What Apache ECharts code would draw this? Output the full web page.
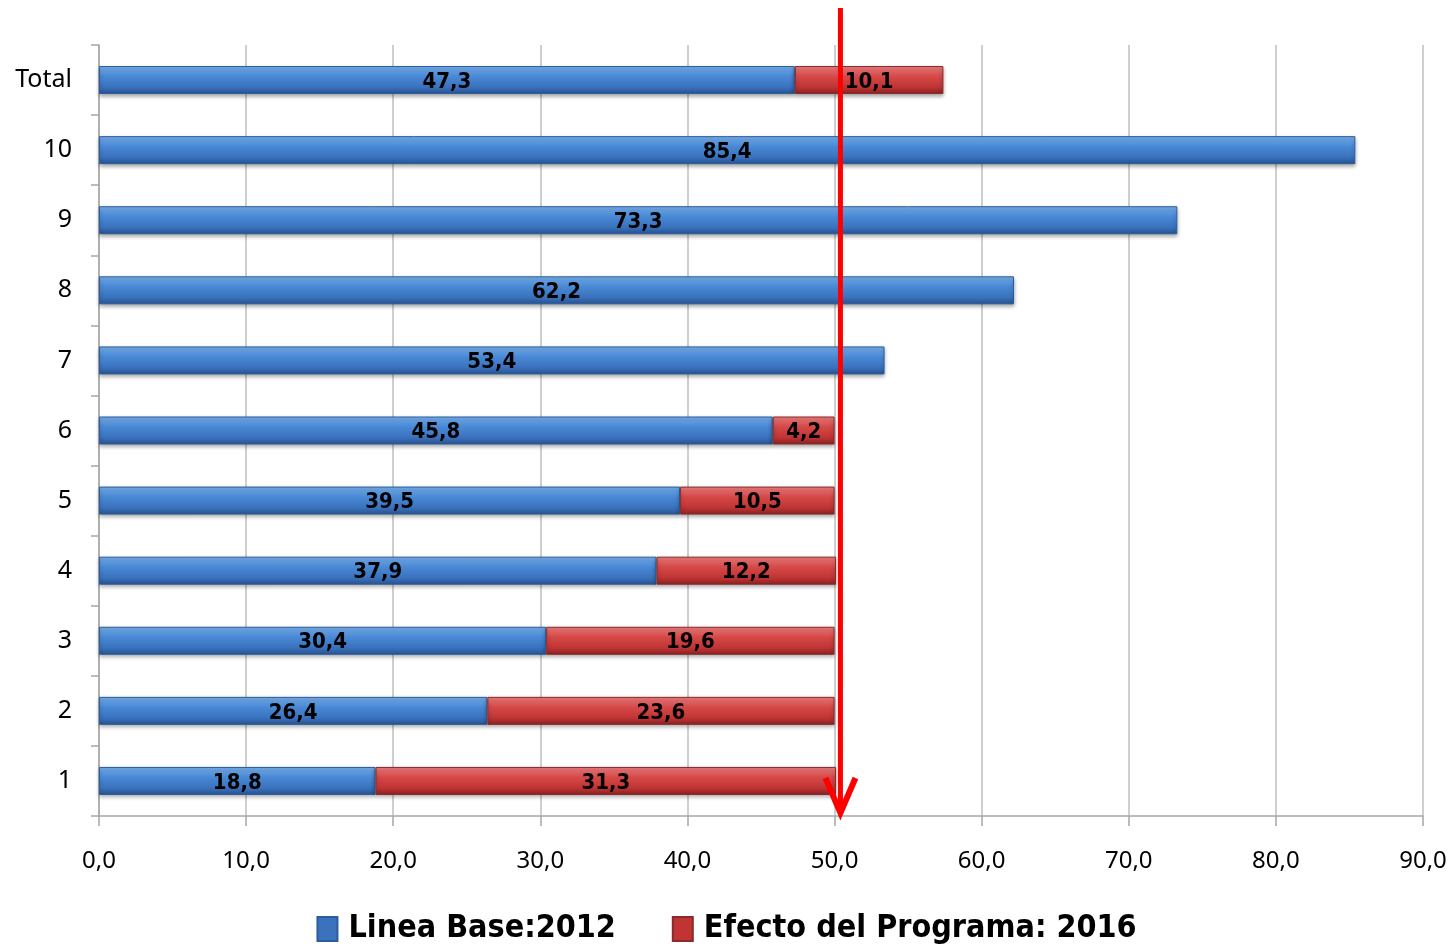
<!DOCTYPE html>
<html lang="es">
<head>
    <meta charset="UTF-8">
    <title>Linea Base 2012 / Efecto del Programa 2016</title>
    <script src="https://cdn.jsdelivr.net/npm/echarts@6/dist/echarts.min.js"></script>
    <style>
        html, body { margin: 0; padding: 0; background: #fff; }
    </style>
</head>
<body>
<div id="main" style="width: 1453px;height:950px;"></div>
<script type="text/javascript">
    var categories = ['1', '2', '3', '4', '5', '6', '7', '8', '9', '10', 'Total'];
    var lineaBase = [18.8, 26.4, 30.4, 37.9, 39.5, 45.8, 53.4, 62.2, 73.3, 85.4, 47.3];   // Linea Base:2012
    var efecto = [31.3, 23.6, 19.6, 12.2, 10.5, 4.2, null, null, null, null, 10.1];       // Efecto del Programa: 2016
    var xTicks = [0, 10, 20, 30, 40, 50, 60, 70, 80, 90];
    var metaValue = 50.4;   // flecha roja

    var narrow = '"Liberation Sans Narrow", "DejaVu Sans Condensed", "Open Sans", sans-serif';

    function coma(v) {
        return (+v).toFixed(1).replace('.', ',');
    }

    var myChart = echarts.init(document.getElementById('main'));

    var blueGrad = new echarts.graphic.LinearGradient(0, 0, 0, 1, [
        {offset: 0, color: '#79b1ee'},
        {offset: 0.35, color: '#4a8ad6'},
        {offset: 0.75, color: '#3a72be'},
        {offset: 1, color: '#28538f'}
    ]);
    var redGrad = new echarts.graphic.LinearGradient(0, 0, 0, 1, [
        {offset: 0, color: '#f08080'},
        {offset: 0.35, color: '#d64a4a'},
        {offset: 0.75, color: '#c03434'},
        {offset: 1, color: '#8a2222'}
    ]);

    var labelStyle = {
        show: true,
        position: 'inside',
        offset: [0, 2],
        color: '#000',
        fontFamily: narrow,
        fontWeight: 'bold',
        fontSize: 22,
        formatter: function (p) { return p.value == null ? '' : coma(p.value); }
    };

    myChart.setOption({
        animation: false,
        grid: {left: 99, right: 30, top: 45, bottom: 134},
        legend: {
            bottom: 0,
            left: 'center',
            itemWidth: 20,
            itemHeight: 24,
            itemGap: 56,
            textStyle: {
                fontFamily: narrow,
                fontWeight: 'bold',
                fontSize: 32,
                color: '#000',
                padding: [0, 0, 0, 6]
            },
            data: [
                {name: 'Linea Base:2012', icon: 'rect', itemStyle: {color: '#3a72be'}},
                {name: 'Efecto del Programa: 2016', icon: 'rect', itemStyle: {color: '#c03434'}}
            ]
        },
        xAxis: {
            type: 'value',
            min: 0,
            max: 90,
            interval: 10,
            axisLine: {show: true, lineStyle: {color: '#a6a6a6', width: 1.5}},
            axisTick: {show: true, length: 10, lineStyle: {color: '#a6a6a6', width: 1.5}},
            splitLine: {show: true, lineStyle: {color: '#bfbfbf', width: 1.5}},
            axisLabel: {
                margin: 33,
                color: '#000',
                fontFamily: '"Noto Sans", "Open Sans", sans-serif',
                fontSize: 24,
                formatter: function (v) { return xTicks.indexOf(v) >= 0 ? coma(v) : ''; }
            }
        },
        yAxis: {
            type: 'category',
            data: categories,
            axisLine: {show: true, lineStyle: {color: '#a6a6a6', width: 1.5}},
            axisTick: {show: true, length: 8, lineStyle: {color: '#a6a6a6', width: 1.5}},
            axisLabel: {
                margin: 27,
                color: '#000',
                fontFamily: '"Noto Sans", "Open Sans", sans-serif',
                fontSize: 25,
                padding: [4, 0, 0, 0]
            }
        },
        series: [{
            name: 'Linea Base:2012',
            type: 'bar',
            stack: 'total',
            barWidth: 28,
            data: lineaBase,
            label: labelStyle,
            itemStyle: {
                color: blueGrad,
                borderColor: '#2c5d9c',
                borderWidth: 1,
                shadowColor: 'rgba(0,0,0,0.35)',
                shadowBlur: 4,
                shadowOffsetY: 2
            }
        }, {
            name: 'Efecto del Programa: 2016',
            type: 'bar',
            stack: 'total',
            barWidth: 28,
            data: efecto,
            label: labelStyle,
            itemStyle: {
                color: redGrad,
                borderColor: '#8a2a2a',
                borderWidth: 1,
                shadowColor: 'rgba(0,0,0,0.35)',
                shadowBlur: 4,
                shadowOffsetY: 2
            }
        }]
    });

    // flecha roja vertical en la meta
    var ax = myChart.convertToPixel({xAxisIndex: 0}, metaValue);
    var yTop = 8;
    var yBot = 950 - 134;
    myChart.setOption({
        graphic: [{
            type: 'line',
            z: 100,
            shape: {x1: ax, y1: yTop, x2: ax, y2: yBot - 4},
            style: {stroke: '#ff0000', lineWidth: 5}
        }, {
            type: 'polyline',
            z: 100,
            shape: {points: [[ax - 15, yBot - 38], [ax, yBot - 3], [ax + 15, yBot - 38]]},
            style: {stroke: '#ff0000', lineWidth: 6, fill: null, lineJoin: 'miter'}
        }]
    });
</script>
</body>
</html>
